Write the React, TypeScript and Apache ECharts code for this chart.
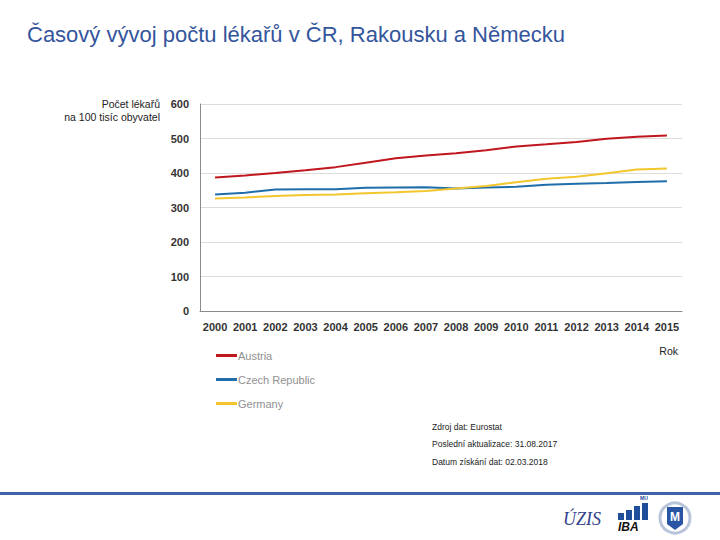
import React, { useEffect, useRef } from "react";
import * as echarts from "echarts";

const years = ["2000","2001","2002","2003","2004","2005","2006","2007","2008","2009","2010","2011","2012","2013","2014","2015"];
const austria = [387, 393, 400, 408, 417, 430, 443, 451, 457, 466, 477, 483, 490, 499, 505, 509];
const czech = [338, 343, 352, 353, 353, 357, 358, 359, 355, 358, 360, 366, 369, 371, 374, 376];
const germany = [326, 329, 333, 336, 338, 341, 344, 348, 355, 362, 373, 383, 389, 399, 410, 413];
const yTicks = { min: 0, max: 600, interval: 100 };
const seriesNames = ["Austria", "Czech Republic", "Germany"];
const seriesColors = ["#C0161E", "#1F6EAA", "#F2C62C"];
const sourceLines = ["Zdroj dat: Eurostat", "Poslední aktualizace: 31.08.2017", "Datum získání dat: 02.03.2018"];

const FONT = "'Liberation Sans', Arial, sans-serif";

export default function App() {
  const ref = useRef<HTMLDivElement>(null);
  useEffect(() => {
    if (!ref.current) return;
    const chart = echarts.init(ref.current, null, { renderer: "svg" });
    const data = [austria, czech, germany];
    chart.setOption({
      animation: false,
      backgroundColor: "#ffffff",
      textStyle: { fontFamily: FONT },
      grid: { left: 200, right: 38, top: 104, bottom: 229, containLabel: false },
      legend: {
        orient: "vertical",
        left: 211,
        top: 345,
        itemWidth: 21,
        itemHeight: 3,
        itemGap: 13,
        icon: "rect",
        textStyle: { color: "#909090", fontSize: 11, fontFamily: FONT, padding: [0, 0, 0, -4] },
        data: seriesNames,
      },
      xAxis: {
        type: "category",
        data: years,
        boundaryGap: true,
        axisLine: { show: true, lineStyle: { color: "#8a8a8a", width: 1 } },
        axisTick: { show: false },
        axisLabel: { color: "#333333", fontSize: 11, fontWeight: "bold", margin: 10, interval: 0, fontFamily: FONT },
        splitLine: { show: false },
      },
      yAxis: {
        type: "value",
        min: yTicks.min,
        max: yTicks.max,
        interval: yTicks.interval,
        axisLine: { show: true, lineStyle: { color: "#8a8a8a", width: 1 } },
        axisTick: { show: false },
        axisLabel: { color: "#333333", fontSize: 11, fontWeight: "bold", margin: 11, fontFamily: FONT },
        splitLine: {
          show: true,
          lineStyle: { color: "#dcdcdc", width: 1 },
        },
      },
      series: seriesNames.map((name, i) => ({
        name,
        type: "line",
        data: data[i],
        showSymbol: false,
        symbol: "none",
        lineStyle: { color: seriesColors[i], width: 2 },
        itemStyle: { color: seriesColors[i] },
      })),
      graphic: [
        {
          type: "text",
          left: 27,
          top: 23,
          style: { text: "Časový vývoj počtu lékařů v ČR, Rakousku a Německu", fill: "#34559C", fontSize: 22, fontFamily: FONT },
        },
        {
          type: "text",
          x: 160,
          y: 98,
          style: { text: "Počet lékařů", fill: "#222222", fontSize: 10.5, fontFamily: FONT, textAlign: "right", textVerticalAlign: "top" },
        },
        {
          type: "text",
          x: 160,
          y: 111,
          style: { text: "na 100 tisíc obyvatel", fill: "#222222", fontSize: 10.5, fontFamily: FONT, textAlign: "right", textVerticalAlign: "top" },
        },
        {
          type: "text",
          x: 678,
          y: 345,
          style: { text: "Rok", fill: "#222222", fontSize: 10.5, fontFamily: FONT, textAlign: "right", textVerticalAlign: "top" },
        },
        ...sourceLines.map((t, i) => ({
          type: "text",
          x: 432,
          y: [422, 439, 457][i],
          style: { text: t, fill: "#222222", fontSize: 8.5, fontFamily: FONT },
        })),
        {
          type: "rect",
          shape: { x: 0, y: 492, width: 720, height: 3 },
          style: { fill: "#3F62A8" },
        },
        {
          type: "text",
          x: 563,
          y: 510,
          style: { text: "ÚZIS", fill: "#33428A", fontSize: 18, fontStyle: "italic", fontFamily: "'Liberation Serif', serif" },
        },
        { type: "rect", shape: { x: 618, y: 513, width: 6, height: 7 }, style: { fill: "#1F4E9A" } },
        { type: "rect", shape: { x: 626, y: 510, width: 6, height: 10 }, style: { fill: "#1F4E9A" } },
        { type: "rect", shape: { x: 634, y: 506, width: 6, height: 14 }, style: { fill: "#1F4E9A" } },
        { type: "rect", shape: { x: 642, y: 503, width: 6, height: 17 }, style: { fill: "#1F4E9A" } },
        { type: "text", x: 640, y: 495, style: { text: "MU", fill: "#1F4E9A", fontSize: 5, fontWeight: "bold", fontFamily: FONT } },
        {
          type: "text",
          x: 618,
          y: 521,
          style: { text: "IBA", fill: "#111111", fontSize: 12, fontWeight: "bold", fontStyle: "italic", fontFamily: FONT },
        },
        {
          type: "circle",
          shape: { cx: 675, cy: 518, r: 15 },
          style: { fill: "#ffffff", stroke: "#B8C4DA", lineWidth: 3 },
        },
        {
          type: "polygon",
          shape: { points: [[667, 507], [683, 507], [683, 524], [675, 530], [667, 524]] },
          style: { fill: "#2A55A5" },
        },
        {
          type: "text",
          x: 675,
          y: 517,
          style: { text: "M", fill: "#ffffff", fontSize: 12, fontWeight: "bold", fontFamily: FONT, textAlign: "center", textVerticalAlign: "middle" },
        },
      ],
    });
    return () => chart.dispose();
  }, []);
  return <div ref={ref} style={{ position: "fixed", left: 0, top: 0, width: 720, height: 540 }} />;
}
